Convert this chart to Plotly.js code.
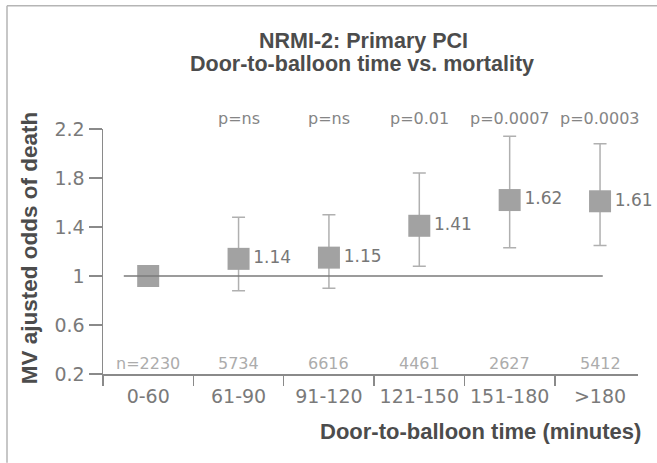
<!DOCTYPE html>
<html>
<head>
<meta charset="utf-8">
<script src="https://cdn.plot.ly/plotly-3.0.1.min.js"></script>
<style>html,body{margin:0;padding:0;background:#fff;}#chart{width:657px;height:463px;}</style>
</head>
<body>
<div id="chart"></div>
<script>
// ---- data ----
var categories = ['0-60', '61-90', '91-120', '121-150', '151-180', '>180'];
var oddsRatio  = [1.00, 1.14, 1.15, 1.41, 1.62, 1.61];
var ciLower    = [1.00, 0.88, 0.90, 1.08, 1.23, 1.25];
var ciUpper    = [1.00, 1.48, 1.50, 1.84, 2.14, 2.08];
var pLabels    = ['', 'p=ns', 'p=ns', 'p=0.01', 'p=0.0007', 'p=0.0003'];
var sampleN    = [2230, 5734, 6616, 4461, 2627, 5412];
var yTickVals  = [0.2, 0.6, 1, 1.4, 1.8, 2.2];
var yTickText  = ['0.2', '0.6', '1', '1.4', '1.8', '2.2'];
var referenceOdds = 1;

// ---- layout helpers (pixel -> paper) ----
var W = 657, H = 463, mL = 103, mR = 19, mT = 128.5, mB = 89;
var pw = W - mL - mR, ph = H - mT - mB;
function px(x) { return (x - mL) / pw; }
function py(y) { return (H - mB - y) / ph; }

var tickFont = {family: 'DejaVu Sans', size: 19, color: '#7a7a7a'};
var titleFont = {family: 'Liberation Sans', size: 21.5, color: '#4c4c4c', weight: 'bold'};

var trace = {
  type: 'scatter',
  mode: 'markers+text',
  x: categories,
  y: oddsRatio,
  text: oddsRatio.map(function (v, i) { return i === 0 ? '' : v.toFixed(2); }),
  textposition: 'middle right',
  textfont: {family: 'DejaVu Sans', size: 17, color: '#777'},
  cliponaxis: false,
  marker: {symbol: 'square', size: 22, color: '#a2a2a2', line: {width: 0}},
  error_y: {
    type: 'data', symmetric: false,
    array: ciUpper.map(function (u, i) { return u - oddsRatio[i]; }),
    arrayminus: ciLower.map(function (l, i) { return oddsRatio[i] - l; }),
    color: '#b0b0b0', thickness: 1.5, width: 6.5
  },
  hoverinfo: 'x+y'
};

var annotations = [];
// title lines
annotations.push({xref: 'paper', yref: 'paper', x: px(363), y: py(40), xanchor: 'center', yanchor: 'middle',
  text: 'NRMI-2: Primary PCI', showarrow: false, font: titleFont});
annotations.push({xref: 'paper', yref: 'paper', x: px(362), y: py(63), xanchor: 'center', yanchor: 'middle',
  text: 'Door-to-balloon time vs. mortality', showarrow: false, font: titleFont});
// axis titles
annotations.push({xref: 'paper', yref: 'paper', x: px(643), y: py(432), xanchor: 'right', yanchor: 'middle',
  text: 'Door-to-balloon time (minutes)', showarrow: false,
  font: {family: 'Liberation Sans', size: 22, color: '#4c4c4c', weight: 'bold'}});
annotations.push({xref: 'paper', yref: 'paper', x: px(29), y: py(248), xanchor: 'center', yanchor: 'middle', textangle: -90,
  text: 'MV ajusted odds of death', showarrow: false,
  font: {family: 'Liberation Sans', size: 22.5, color: '#4c4c4c', weight: 'bold'}});
// p-values and sample sizes
categories.forEach(function (c, i) {
  if (pLabels[i]) {
    annotations.push({x: c, y: 2.2, xref: 'x', yref: 'y', yshift: 11, xanchor: 'center', yanchor: 'middle',
      text: pLabels[i], showarrow: false, font: {family: 'DejaVu Sans', size: 16, color: '#858585'}});
  }
  annotations.push({x: c, y: 0.2, xref: 'x', yref: 'y', yshift: 11, xanchor: 'center', yanchor: 'middle',
    text: (i === 0 ? 'n=' : '') + sampleN[i], showarrow: false, font: {family: 'DejaVu Sans', size: 16, color: '#acacac'}});
});

var layout = {
  width: W, height: H,
  margin: {l: mL, r: mR, t: mT, b: mB, pad: 0},
  paper_bgcolor: '#fff', plot_bgcolor: '#fff',
  showlegend: false,
  xaxis: {
    type: 'category', range: [-0.5, 5.42],
    showline: true, linecolor: '#8a8a8a', linewidth: 1.5,
    ticks: 'outside', tickson: 'boundaries', ticklen: 10, tickcolor: '#8a8a8a', tickwidth: 1.5,
    ticklabelstandoff: 5,
    showgrid: false, zeroline: false, tickfont: tickFont, fixedrange: true
  },
  yaxis: {
    range: [0.2, 2.2], tickmode: 'array', tickvals: yTickVals, ticktext: yTickText,
    showline: true, linecolor: '#8a8a8a', linewidth: 1.5,
    ticks: 'outside', ticklen: 13, tickcolor: '#8a8a8a', tickwidth: 1.5,
    showgrid: false, zeroline: false, tickfont: tickFont, fixedrange: true
  },
  shapes: [
    {type: 'line', xref: 'x', yref: 'y', x0: -0.27, x1: 5.03, y0: referenceOdds, y1: referenceOdds,
      line: {color: '#7a7a7a', width: 1.5}, layer: 'above'},
    {type: 'line', xref: 'paper', yref: 'paper', x0: px(7), x1: px(657), y0: py(5), y1: py(5),
      line: {color: '#b5b5b5', width: 1.5}},
    {type: 'line', xref: 'paper', yref: 'paper', x0: px(7), x1: px(7), y0: py(5), y1: py(463),
      line: {color: '#b5b5b5', width: 1.5}}
  ],
  annotations: annotations
};

Plotly.newPlot('chart', [trace], layout, {displayModeBar: false, staticPlot: true});
</script>
</body>
</html>
